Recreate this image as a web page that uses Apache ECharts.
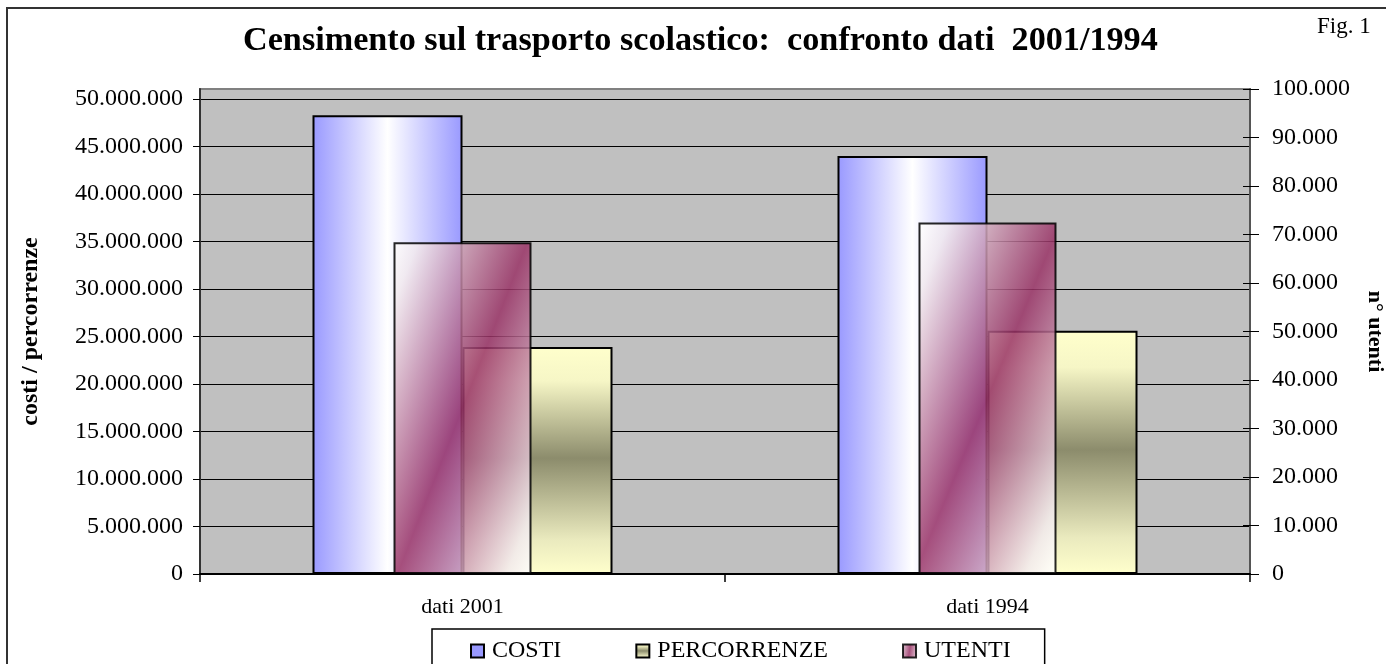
<!DOCTYPE html>
<html>
<head>
<meta charset="utf-8">
<title>Censimento sul trasporto scolastico</title>
<script src="https://cdn.jsdelivr.net/npm/echarts@6/dist/echarts.min.js"></script>
<style>
  html, body { margin: 0; padding: 0; background: #fff; }
  #chart { width: 1386px; height: 664px; }
</style>
</head>
<body>
<div id="chart"></div>
<script>
// dati
const categories = ['dati 2001', 'dati 1994']
const costi = [48300000, 44000000]
const percorrenze = [23900000, 25600000]
const utenti = [68400, 72500]
const leftTicks = [0, 5000000, 10000000, 15000000, 20000000, 25000000, 30000000, 35000000, 40000000, 45000000, 50000000]
const rightTicks = [0, 10000, 20000, 30000, 40000, 50000, 60000, 70000, 80000, 90000, 100000]

const FONT = 'Liberation Serif'

function fmt(v) {
  return String(Math.round(v)).replace(/\B(?=(\d{3})+(?!\d))/g, '.')
}

const chart = echarts.init(document.getElementById('chart'))

chart.setOption({
  backgroundColor: '#fff',
  animation: false,
  textStyle: { fontFamily: FONT, color: '#000' },
  title: [{
    text: 'Censimento sul trasporto scolastico:  confronto dati  2001/1994',
    left: 243,
    top: 24,
    padding: 0,
    textStyle: { fontFamily: FONT, fontSize: 34.2, fontWeight: 'bold', color: '#000' }
  }, {
    text: 'Fig. 1',
    left: 1317,
    top: 15,
    padding: 0,
    textStyle: { fontFamily: FONT, fontSize: 23, fontWeight: 'normal', color: '#000' }
  }],
  graphic: [{
    type: 'rect',
    silent: true,
    z: 100,
    shape: { x: 7, y: 8, width: 1400, height: 700 },
    style: { fill: 'none', stroke: '#333', lineWidth: 2 }
  }],
  legend: {
    left: 432,
    top: 629,
    padding: [10, 34, 12, 38],
    borderColor: '#000',
    borderWidth: 1.5,
    itemGap: 74,
    itemWidth: 13,
    itemHeight: 13,
    icon: 'rect',
    textStyle: { fontFamily: FONT, fontSize: 24, color: '#000', padding: [0, 0, 0, 3] },
    data: [
      { name: 'COSTI', itemStyle: { color: '#9999ff' } },
      'PERCORRENZE',
      'UTENTI'
    ]
  },
  grid: {
    left: 200,
    right: 136,
    top: 89,
    bottom: 90,
    outerBoundsMode: 'none',
    containLabel: false,
    show: true,
    backgroundColor: '#c0c0c0',
    borderColor: '#808080',
    borderWidth: 2
  },
  xAxis: [{
    type: 'category',
    data: categories,
    axisLine: { lineStyle: { color: '#000', width: 2 } },
    axisTick: { show: true, length: 8, lineStyle: { color: '#000', width: 1.5 } },
    axisLabel: { fontFamily: FONT, fontSize: 22, color: '#000', margin: 22 },
    splitLine: { show: false }
  }, {
    type: 'category',
    data: categories,
    show: false
  }],
  yAxis: [{
    type: 'value',
    min: 0,
    max: 51050000,
    interval: 5000000,
    name: 'costi / percorrenze',
    nameLocation: 'middle',
    nameGap: 157,
    nameTextStyle: { fontFamily: FONT, fontSize: 24, fontWeight: 'bold', color: '#000' },
    axisLine: { show: true, lineStyle: { color: '#333', width: 2 } },
    axisTick: { show: true, length: 7, customValues: leftTicks, lineStyle: { color: '#000' } },
    axisLabel: {
      fontFamily: FONT, fontSize: 24, color: '#000', margin: 17,
      customValues: leftTicks,
      formatter: fmt
    },
    splitLine: {
      show: true,
      lineStyle: { color: ['#000', '#000', '#000', '#000', '#000', '#000', '#000', '#000', '#000', '#000', '#000', '#808080'], width: 1.2 }
    }
  }, {
    type: 'value',
    position: 'right',
    min: 0,
    max: 100000,
    interval: 10000,
    name: 'n° utenti',
    nameLocation: 'middle',
    nameRotate: -90,
    nameGap: 114,
    nameTextStyle: { fontFamily: FONT, fontSize: 22, fontWeight: 'bold', color: '#000' },
    axisLine: { show: true, lineStyle: { color: '#555', width: 2 } },
    axisTick: { show: true, length: 9, customValues: rightTicks, lineStyle: { color: '#000' } },
    axisLabel: {
      fontFamily: FONT, fontSize: 24, color: '#000', margin: 22,
      customValues: rightTicks,
      formatter: fmt
    },
    splitLine: { show: false }
  }, {
    // tacche interne dell'asse destro (in Excel attraversano l'asse)
    type: 'value',
    position: 'right',
    min: 0,
    max: 100000,
    interval: 10000,
    axisLine: { show: false },
    axisTick: { show: true, inside: true, length: 7, lineStyle: { color: '#000' } },
    axisLabel: { show: false },
    splitLine: { show: false }
  }],
  series: [{
    name: 'COSTI',
    type: 'bar',
    xAxisIndex: 0,
    yAxisIndex: 0,
    barWidth: 150,
    barGap: '0%',
    data: costi,
    itemStyle: {
      borderColor: '#000',
      borderWidth: 2,
      color: new echarts.graphic.LinearGradient(0, 0, 1, 0, [
        { offset: 0, color: '#9999ff' },
        { offset: 0.5, color: '#ffffff' },
        { offset: 1, color: '#9999ff' }
      ])
    }
  }, {
    name: 'PERCORRENZE',
    type: 'bar',
    xAxisIndex: 0,
    yAxisIndex: 0,
    barWidth: 150,
    barGap: '0%',
    data: percorrenze,
    itemStyle: {
      borderColor: '#000',
      borderWidth: 2,
      color: new echarts.graphic.LinearGradient(0, 0, 0, 1, [
        { offset: 0, color: '#ffffcc' },
        { offset: 0.15, color: '#f6f6c6' },
        { offset: 0.49, color: '#8c8c6c' },
        { offset: 0.85, color: '#eaeabe' },
        { offset: 1, color: '#ffffcc' }
      ])
    }
  }, {
    name: 'UTENTI',
    type: 'bar',
    xAxisIndex: 1,
    yAxisIndex: 1,
    barWidth: 138,
    data: utenti,
    itemStyle: {
      borderColor: '#000',
      borderWidth: 2,
      opacity: 0.85,
      color: new echarts.graphic.LinearGradient(-0.36, 0.36, 1.36, 0.64, [
        { offset: 0, color: '#ffffff' },
        { offset: 0.1, color: '#f2eaee' },
        { offset: 0.5, color: '#993366' },
        { offset: 0.9, color: '#f2eaee' },
        { offset: 1, color: '#ffffff' }
      ])
    }
  }]
})
</script>
</body>
</html>
